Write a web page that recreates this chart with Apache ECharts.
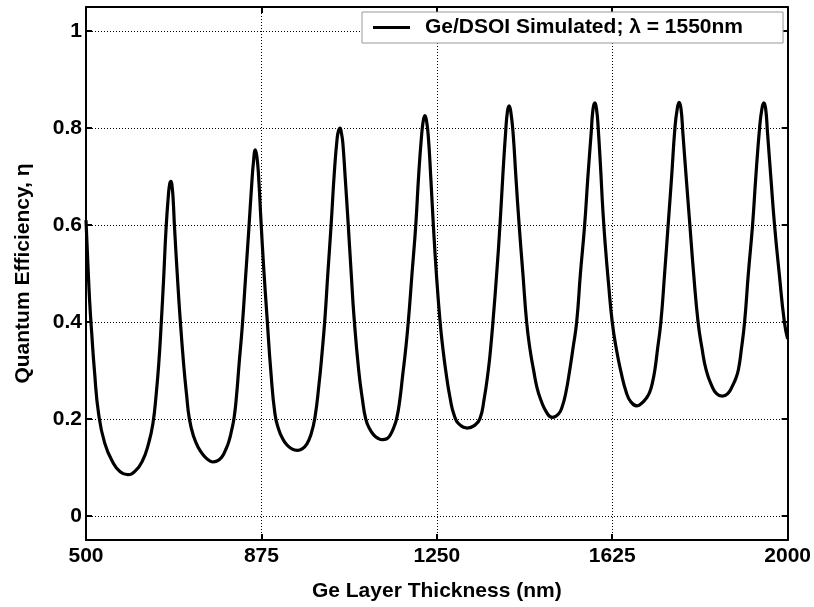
<!DOCTYPE html>
<html><head><meta charset="utf-8">
<script src="https://cdn.jsdelivr.net/npm/echarts@6/dist/echarts.min.js"></script>
<style>html,body{margin:0;padding:0;background:#fff}#c{width:814px;height:607px}</style>
</head><body><div id="c"></div>
<script>
// Ge layer thickness (nm)
const thickness = [
  500, 504, 508, 512, 518, 527, 540, 557, 573, 589, 605, 621, 634, 643, 650, 656, 661, 666, 671, 676, 679, 681.6, 684, 686.5, 689, 695, 701, 709, 715, 721, 730, 740, 752, 762,
  770.7, 780, 790, 798, 805, 811, 817, 822, 827, 834, 841, 848, 854, 858, 862, 865.5, 869, 874, 880, 887, 895, 904, 912, 920, 928, 940,
  952, 962, 972, 981, 989, 998, 1005, 1011, 1017, 1024, 1031, 1037, 1040, 1043, 1046, 1049, 1054, 1060, 1067, 1073, 1083, 1091, 1098, 1106, 1115, 1124,
  1134, 1143, 1150, 1157, 1164, 1171, 1177, 1183, 1189, 1197, 1205, 1211, 1217, 1221, 1224.5, 1228, 1232, 1237, 1242, 1249, 1257, 1263, 1269, 1278, 1288, 1300,
  1315, 1330, 1342, 1351, 1360, 1365, 1370, 1378, 1385, 1391, 1397, 1401, 1404.6, 1408, 1413, 1419, 1426, 1434, 1442, 1449, 1457, 1464, 1472, 1485,
  1497, 1510, 1518, 1526, 1534, 1541, 1549, 1557, 1566, 1573, 1580, 1584, 1588, 1592, 1595, 1600, 1605, 1610, 1617, 1625, 1634, 1643, 1655, 1665,
  1678, 1691, 1698, 1705, 1711, 1716, 1722, 1729, 1737, 1744.5, 1752, 1759, 1764, 1768, 1772, 1776, 1783, 1791, 1799, 1808.5, 1817, 1826, 1837, 1848,
  1860, 1872, 1883, 1889, 1895, 1901, 1908, 1916, 1925, 1932, 1940, 1945, 1949, 1953, 1957, 1964, 1972, 1982, 1993, 2000
];
// Quantum efficiency
const efficiency = [
  0.61, 0.52, 0.44, 0.38, 0.30, 0.21, 0.15, 0.111, 0.091, 0.085, 0.092, 0.114, 0.15, 0.19, 0.25, 0.32, 0.40, 0.49, 0.59, 0.66, 0.685, 0.69, 0.68, 0.65, 0.60, 0.50, 0.41, 0.31, 0.25, 0.20, 0.164, 0.141, 0.124, 0.115,
  0.111, 0.113, 0.121, 0.135, 0.152, 0.175, 0.205, 0.25, 0.31, 0.39, 0.49, 0.59, 0.68, 0.73, 0.755, 0.74, 0.70, 0.61, 0.51, 0.41, 0.30, 0.21, 0.178, 0.16, 0.148, 0.138,
  0.135, 0.138, 0.148, 0.168, 0.20, 0.27, 0.34, 0.41, 0.50, 0.60, 0.71, 0.78, 0.795, 0.80, 0.79, 0.77, 0.70, 0.61, 0.50, 0.41, 0.30, 0.24, 0.20, 0.18, 0.167, 0.16,
  0.157, 0.159, 0.166, 0.18, 0.20, 0.24, 0.29, 0.34, 0.40, 0.50, 0.60, 0.70, 0.78, 0.815, 0.826, 0.815, 0.78, 0.70, 0.61, 0.50, 0.40, 0.345, 0.30, 0.245, 0.205, 0.187,
  0.181, 0.186, 0.20, 0.24, 0.30, 0.345, 0.40, 0.50, 0.60, 0.70, 0.79, 0.835, 0.846, 0.835, 0.79, 0.70, 0.60, 0.50, 0.40, 0.345, 0.30, 0.265, 0.24, 0.213,
  0.203, 0.21, 0.225, 0.255, 0.30, 0.345, 0.40, 0.50, 0.60, 0.70, 0.79, 0.84, 0.852, 0.835, 0.80, 0.72, 0.63, 0.56, 0.48, 0.40, 0.343, 0.30, 0.255, 0.235,
  0.227, 0.235, 0.243, 0.255, 0.275, 0.30, 0.345, 0.40, 0.50, 0.60, 0.70, 0.80, 0.84, 0.853, 0.84, 0.79, 0.70, 0.60, 0.50, 0.40, 0.345, 0.30, 0.27, 0.252,
  0.247, 0.252, 0.27, 0.283, 0.303, 0.343, 0.40, 0.50, 0.60, 0.70, 0.80, 0.84, 0.852, 0.84, 0.79, 0.70, 0.60, 0.50, 0.40, 0.365
];
const xTicks = [500, 875, 1250, 1625, 2000];
const yTicks = [0, 0.2, 0.4, 0.6, 0.8, 1];
const yTickLabels = ['0', '0.2', '0.4', '0.6', '0.8', '1'];
const seriesName = 'Ge/DSOI Simulated; \u03bb = 1550nm';
const xName = 'Ge Layer Thickness (nm)';
const yName = 'Quantum Efficiency, \u03b7';

const FONT = '"Liberation Sans", Arial, sans-serif';
const data = thickness.map((t, i) => [t, efficiency[i]]);
const frame = { show: true, onZero: false, lineStyle: { color: '#000', width: 2 } };
const tick = { show: true, inside: true, length: 6, lineStyle: { color: '#000', width: 2 } };
const grid = { show: true, lineStyle: { color: '#000', width: 1, type: [1, 2] } };
const labelStyle = { color: '#000', fontSize: 21, fontWeight: 'bold', fontFamily: FONT };

const chart = echarts.init(document.getElementById('c'), null, { renderer: 'canvas' });
chart.setOption({
  backgroundColor: '#fff',
  animation: false,
  grid: { left: 86, right: 26, top: 7, bottom: 65, containLabel: false },
  legend: {
    data: [seriesName],
    left: 362, top: 12,
    backgroundColor: '#fff',
    borderColor: '#999', borderWidth: 1,
    padding: [5, 40, 5, 11],
    icon: 'rect',
    itemWidth: 37, itemHeight: 3,
    textStyle: { color: '#000', fontSize: 21, fontWeight: 'bold', fontFamily: FONT, padding: [0, 0, 0, 10] }
  },
  xAxis: [
    { type: 'value', min: xTicks[0], max: xTicks[xTicks.length - 1], interval: xTicks[1] - xTicks[0], position: 'bottom',
      axisLine: frame, axisTick: tick, splitLine: grid,
      axisLabel: { ...labelStyle, margin: 6, formatter: v => String(v) },
      name: xName, nameLocation: 'middle', nameGap: 41,
      nameTextStyle: { ...labelStyle } },
    { type: 'value', min: xTicks[0], max: xTicks[xTicks.length - 1], interval: xTicks[1] - xTicks[0], position: 'top',
      axisLine: frame, axisTick: tick, splitLine: { show: false }, axisLabel: { show: false } }
  ],
  yAxis: [
    { type: 'value', min: -0.05, max: 1.05, position: 'left',
      axisLine: frame,
      axisTick: { ...tick, customValues: yTicks },
      splitLine: grid,
      axisLabel: { ...labelStyle, margin: 4, customValues: yTicks,
        formatter: v => { const i = yTicks.findIndex(t => Math.abs(t - v) < 1e-9); return i >= 0 ? yTickLabels[i] : ''; } },
      name: yName, nameLocation: 'middle', nameGap: 52,
      nameTextStyle: { ...labelStyle } },
    { type: 'value', min: -0.05, max: 1.05, position: 'right',
      axisLine: frame,
      axisTick: { ...tick, customValues: yTicks },
      splitLine: { show: false }, axisLabel: { show: false } }
  ],
  series: [{
    name: seriesName, type: 'line', data: data,
    xAxisIndex: 0, yAxisIndex: 0,
    symbol: 'none', smooth: 0.5,
    lineStyle: { color: '#000', width: 3.2 },
    itemStyle: { color: '#000' }
  }]
});
</script></body></html>
